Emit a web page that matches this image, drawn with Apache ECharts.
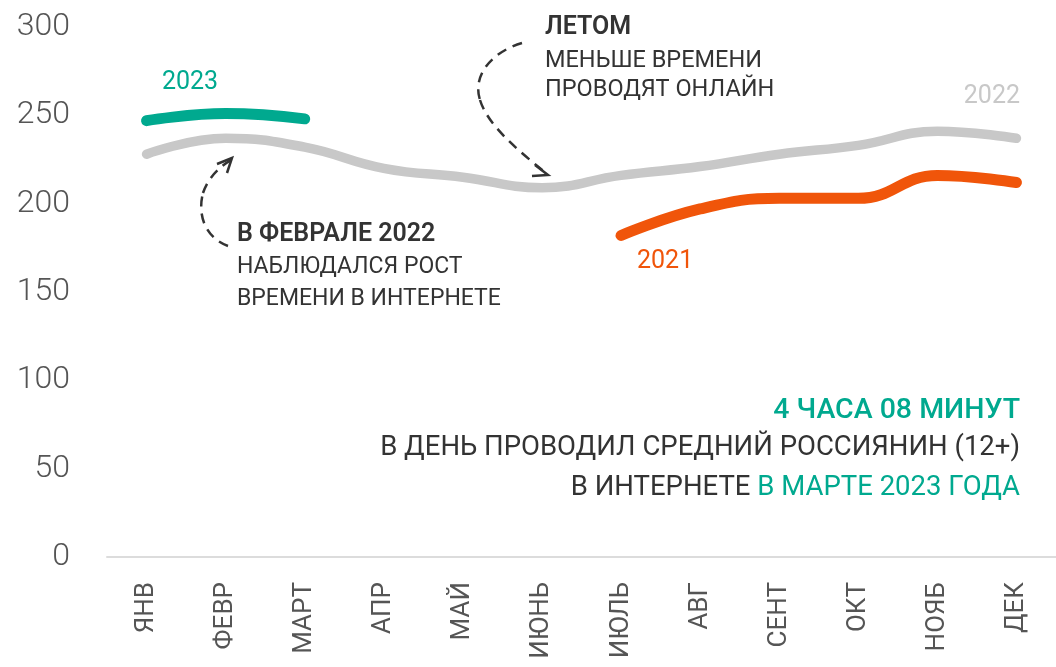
<!DOCTYPE html>
<html>
<head>
<meta charset="utf-8">
<script src="https://cdn.jsdelivr.net/npm/echarts@6/dist/echarts.min.js"></script>
<style>
html,body{margin:0;padding:0;background:#fff;}
#chart{width:1056px;height:667px;}
</style>
</head>
<body>
<div id="chart"></div>
<script>
var months = ['ЯНВ','ФЕВР','МАРТ','АПР','МАЙ','ИЮНЬ','ИЮЛЬ','АВГ','СЕНТ','ОКТ','НОЯБ','ДЕК'];
var yTicks = [0, 50, 100, 150, 200, 250, 300];
var s2022 = [228, 237, 232, 220, 215, 209, 216, 221, 228, 233, 241, 237];
var s2021 = [null, null, null, null, null, null, 182, 197, 203, 203, 216, 212];
var s2023 = [247, 251, 248, null, null, null, null, null, null, null, null, null];

var TEAL = '#00A98F', GRAY = '#C8C8C8', ORANGE = '#F0550A', DARK = '#333333';
var FONT = 'Roboto, "Noto Sans", sans-serif';

var chart = echarts.init(document.getElementById('chart'));
function lineSeries(name, data, color, width, z) {
  return {
    name: name, type: 'line', data: data, smooth: 0.45, symbol: 'none',
    connectNulls: false, z: z,
    lineStyle: { color: color, width: width, cap: 'round', join: 'round' }
  };
}
var dashStyle = { stroke: DARK, fill: null, lineWidth: 2.5, lineDash: [10, 7] };
var solidStyle = { stroke: DARK, fill: null, lineWidth: 2.5 };
function curve(x1, y1, cx1, cy1, cx2, cy2, x2, y2) {
  return { type: 'bezierCurve', shape: { x1: x1, y1: y1, cpx1: cx1, cpy1: cy1, cpx2: cx2, cpy2: cy2, x2: x2, y2: y2 }, style: dashStyle };
}
function head(pts) {
  return { type: 'polyline', shape: { points: pts }, style: solidStyle };
}
function txt(t, x, y, font, fill, align) {
  return { type: 'text', style: { text: t, x: x, y: y, align: align || 'left', verticalAlign: 'middle', font: font, fill: fill } };
}
chart.setOption({
  animation: false,
  backgroundColor: '#fff',
  grid: { left: 107, width: 955, top: 27, height: 530 },
  xAxis: {
    type: 'category', data: months, boundaryGap: true,
    axisLine: { lineStyle: { color: '#DCDCDC', width: 2 } },
    axisTick: { show: false },
    axisLabel: { rotate: 90, interval: 0, margin: 25, color: '#555', fontSize: 26, fontFamily: FONT }
  },
  yAxis: {
    type: 'value', min: yTicks[0], max: yTicks[yTicks.length - 1], interval: 50,
    splitLine: { show: false }, axisLine: { show: false }, axisTick: { show: false },
    axisLabel: { margin: 37, color: '#555', fontSize: 32, fontWeight: 300, fontFamily: FONT }
  },
  series: [
    lineSeries('2022', s2022, GRAY, 9.5, 2),
    lineSeries('2021', s2021, ORANGE, 11, 3),
    lineSeries('2023', s2023, TEAL, 11, 4)
  ],
  graphic: [
    txt('2023', 190, 83, '25px ' + FONT, TEAL, 'center'),
    txt('2022', 1020, 97, '25px ' + FONT, GRAY, 'right'),
    txt('2021', 637, 262, '25px ' + FONT, ORANGE, 'left'),

    curve(228, 246, 206, 238, 197, 216, 203, 193),
    curve(203, 193, 208, 178, 219, 167, 231, 160),
    head([[217, 164], [232, 158], [227, 173]]),
    txt('В ФЕВРАЛЕ 2022', 237, 235, '600 25px ' + FONT, DARK),
    txt('НАБЛЮДАЛСЯ РОСТ', 237, 267, '23px ' + FONT, DARK),
    txt('ВРЕМЕНИ В ИНТЕРНЕТЕ', 237, 299, '23px ' + FONT, DARK),

    curve(522, 43, 492, 52, 472, 75, 480, 100),
    curve(480, 100, 488, 126, 520, 152, 546, 173),
    head([[535, 165], [548, 175], [532, 176]]),
    txt('ЛЕТОМ', 545, 28, '600 25px ' + FONT, DARK),
    txt('МЕНЬШЕ ВРЕМЕНИ', 545, 61, '23.5px ' + FONT, DARK),
    txt('ПРОВОДЯТ ОНЛАЙН', 545, 90, '23.5px ' + FONT, DARK),

    txt('4 ЧАСА 08 МИНУТ', 1020, 411, '500 28.5px ' + FONT, TEAL, 'right'),
    txt('В ДЕНЬ ПРОВОДИЛ СРЕДНИЙ РОССИЯНИН (12+)', 1020, 448, '27.5px ' + FONT, DARK, 'right'),
    { type: 'text', style: { text: '{a|В ИНТЕРНЕТЕ }{b|В МАРТЕ 2023 ГОДА}', x: 1020, y: 488, align: 'right', verticalAlign: 'middle',
      rich: { a: { fontSize: 27.5, fontFamily: FONT, fill: DARK }, b: { fontSize: 27.5, fontFamily: FONT, fill: TEAL } } } }
  ]
});
</script>
</body>
</html>
